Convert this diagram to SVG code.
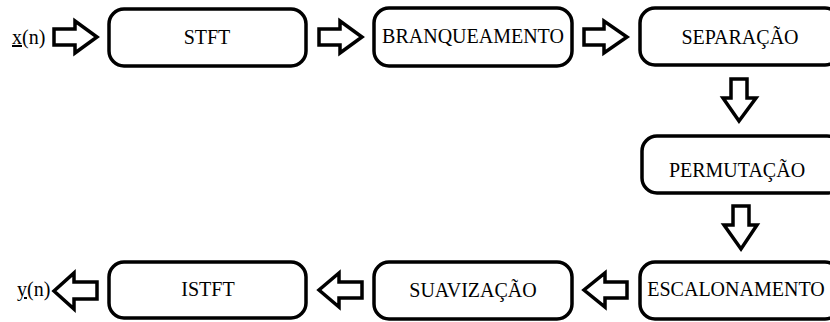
<svg xmlns="http://www.w3.org/2000/svg" width="830" height="322" viewBox="0 0 830 322">
<style>
.box{fill:#fff;stroke:#000;stroke-width:3.5}
.arr{fill:#fff;stroke:#000;stroke-width:3.5;stroke-linejoin:miter}
.t{font-family:'Liberation Serif','Times New Roman',serif;font-size:20px;fill:#000}
.c{text-anchor:middle}
</style>
<rect width="830" height="322" fill="#fff"/>
<g id="in"><text class="t" x="12" y="44"><tspan text-decoration="underline">x</tspan>(n)</text></g>
<g id="out"><text class="t" x="17" y="296"><tspan text-decoration="underline">y</tspan>(n)</text></g>
<g id="stft"><rect class="box" x="109" y="9" width="197" height="57" rx="15"/><text class="t c" x="207" y="44">STFT</text></g>
<g id="branqueamento"><rect class="box" x="374" y="8" width="198" height="58" rx="15"/><text class="t c" x="473" y="43">BRANQUEAMENTO</text></g>
<g id="separacao"><rect class="box" x="640" y="8" width="200" height="57" rx="15"/><text class="t c" x="740" y="44">SEPARAÇÃO</text></g>
<g id="permutacao"><rect class="box" x="642" y="136" width="200" height="57" rx="15"/><text class="t c" x="737" y="177">PERMUTAÇÃO</text></g>
<g id="escalonamento"><rect class="box" x="640" y="262" width="200" height="57" rx="15"/><text class="t c" x="736" y="296">ESCALONAMENTO</text></g>
<g id="suavizacao"><rect class="box" x="374" y="262" width="198" height="57" rx="15"/><text class="t c" x="473" y="297">SUAVIZAÇÃO</text></g>
<g id="istft"><rect class="box" x="109" y="262" width="197" height="56" rx="15"/><text class="t c" x="208" y="296">ISTFT</text></g>
<g id="connectors">
<path class="arr" d="M54,29 H75 V21 L97,37 L75,53 V45 H54 Z"/>
<path class="arr" d="M319,29 H340 V21 L362,37 L340,53 V45 H319 Z"/>
<path class="arr" d="M584,29 H604 V21 L627,37 L604,53 V45 H584 Z"/>
<path class="arr" d="M731,79 V98 H723 L739,121 L756,98 H747 V79 Z"/>
<path class="arr" d="M733,206 V225 H724 L741,249 L757,225 H749 V206 Z"/>
<path class="arr" d="M627,282 H605 V273 L584,290 L605,307 V298 H627 Z"/>
<path class="arr" d="M362,282 H339 V273 L319,290 L339,307 V298 H362 Z"/>
<path class="arr" d="M97,282 H74 V273 L54,291 L74,309 V299 H97 Z"/>
</g>
</svg>
